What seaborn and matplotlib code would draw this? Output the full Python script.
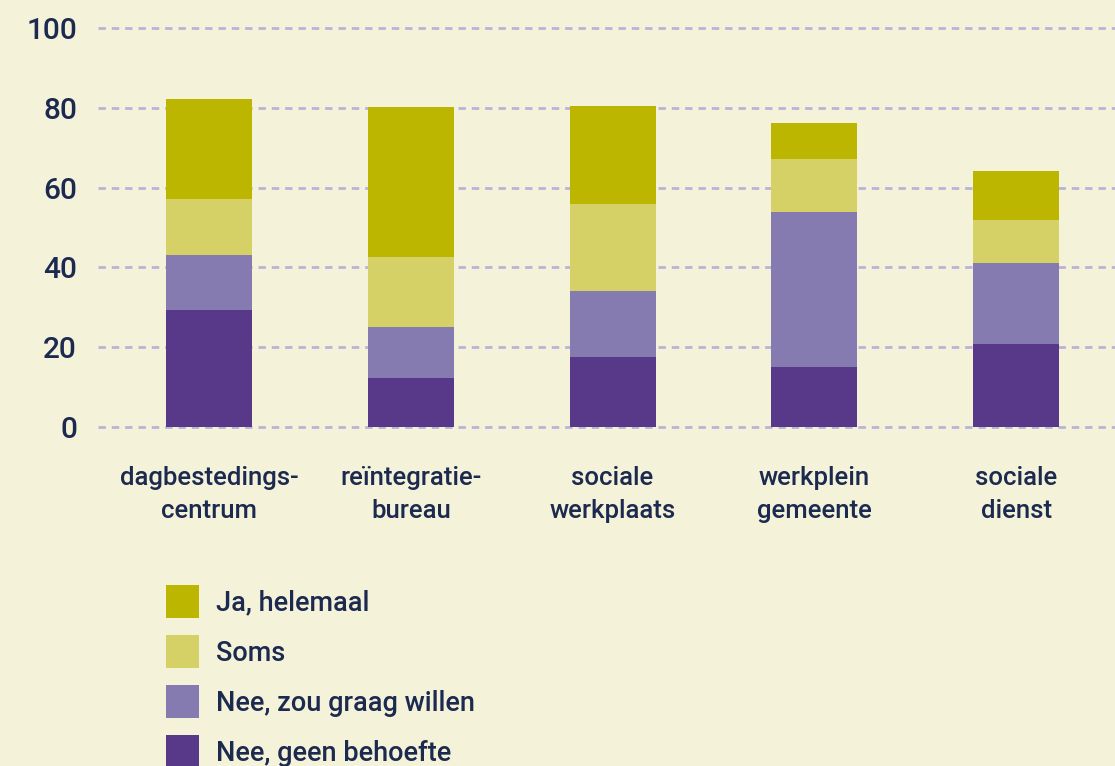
import numpy as np
import pandas as pd
import matplotlib
matplotlib.use("Agg")
import matplotlib.pyplot as plt
import seaborn as sns
from matplotlib.patches import Patch

categories = ["dagbestedings-\ncentrum", "reïntegratie-\nbureau", "sociale\nwerkplaats",
              "werkplein\ngemeente", "sociale\ndienst"]
series_names = ["Nee, geen behoefte", "Nee, zou graag willen", "Soms", "Ja, helemaal"]
nee_geen = [29.3, 12.3, 17.5, 15.0, 20.8]
nee_graag = [13.8, 12.8, 16.6, 38.9, 20.3]
soms = [14.0, 17.5, 21.8, 13.3, 10.8]
ja = [25.1, 37.6, 24.6, 9.0, 12.3]
yticks = [0, 20, 40, 60, 80, 100]

colors = {"Nee, geen behoefte": "#573889", "Nee, zou graag willen": "#857bb0",
          "Soms": "#d6d166", "Ja, helemaal": "#bdb600"}
bg = "#f4f2d9"
text_c = "#1c2a50"
grid_c = "#bab3d8"

sns.set_theme(style="white")
plt.rcParams['font.family'] = ['Roboto', 'DejaVu Sans']

df = pd.DataFrame({"cat": categories, "Nee, geen behoefte": nee_geen,
                   "Nee, zou graag willen": nee_graag, "Soms": soms, "Ja, helemaal": ja})
cum = df[series_names].cumsum(axis=1)

fig = plt.figure(figsize=(11.15, 7.66), dpi=100, facecolor=bg)
ax = fig.add_axes([98/1115, (766-431)/766, 1017/1115, 407/766])
ax.set_facecolor(bg)

for name in reversed(series_names):
    sns.barplot(x=df["cat"], y=cum[name], color=colors[name], width=0.426,
                ax=ax, linewidth=0, saturation=1, zorder=3)

ax.set_ylim(-1, 101)
ax.set_xlim(-0.55, 4.49)
ax.set_yticks(yticks)
ax.set_yticklabels([str(t) for t in yticks])
ax.yaxis.grid(True, color=grid_c, linestyle=(0, (2.65, 2.15)), linewidth=2)
ax.xaxis.grid(False)
ax.set_axisbelow(True)
for s in ax.spines.values():
    s.set_visible(False)
ax.set_xlabel("")
ax.set_ylabel("")
ax.tick_params(axis='y', length=0, pad=15, labelsize=21.5, labelcolor=text_c)
ax.tick_params(axis='x', length=0, pad=25, labelsize=18.5, labelcolor=text_c)
for lab in ax.get_yticklabels():
    lab.set_fontweight('medium')
for lab in ax.get_xticklabels():
    lab.set_fontweight('medium')
    lab.set_linespacing(1.48)

handles = [Patch(facecolor=colors[n], edgecolor='none', label=n) for n in reversed(series_names)]
leg = fig.legend(handles=handles, loc='upper left', bbox_to_anchor=(166/1115, 1-585/766),
                 frameon=False, borderpad=0, borderaxespad=0, handlelength=1.22,
                 handleheight=1.5, labelspacing=0.63, handletextpad=0.63,
                 prop={'size': 19.5, 'weight': 'medium'})
for t in leg.get_texts():
    t.set_color(text_c)

fig.savefig("out.png", dpi=100, facecolor=bg)
